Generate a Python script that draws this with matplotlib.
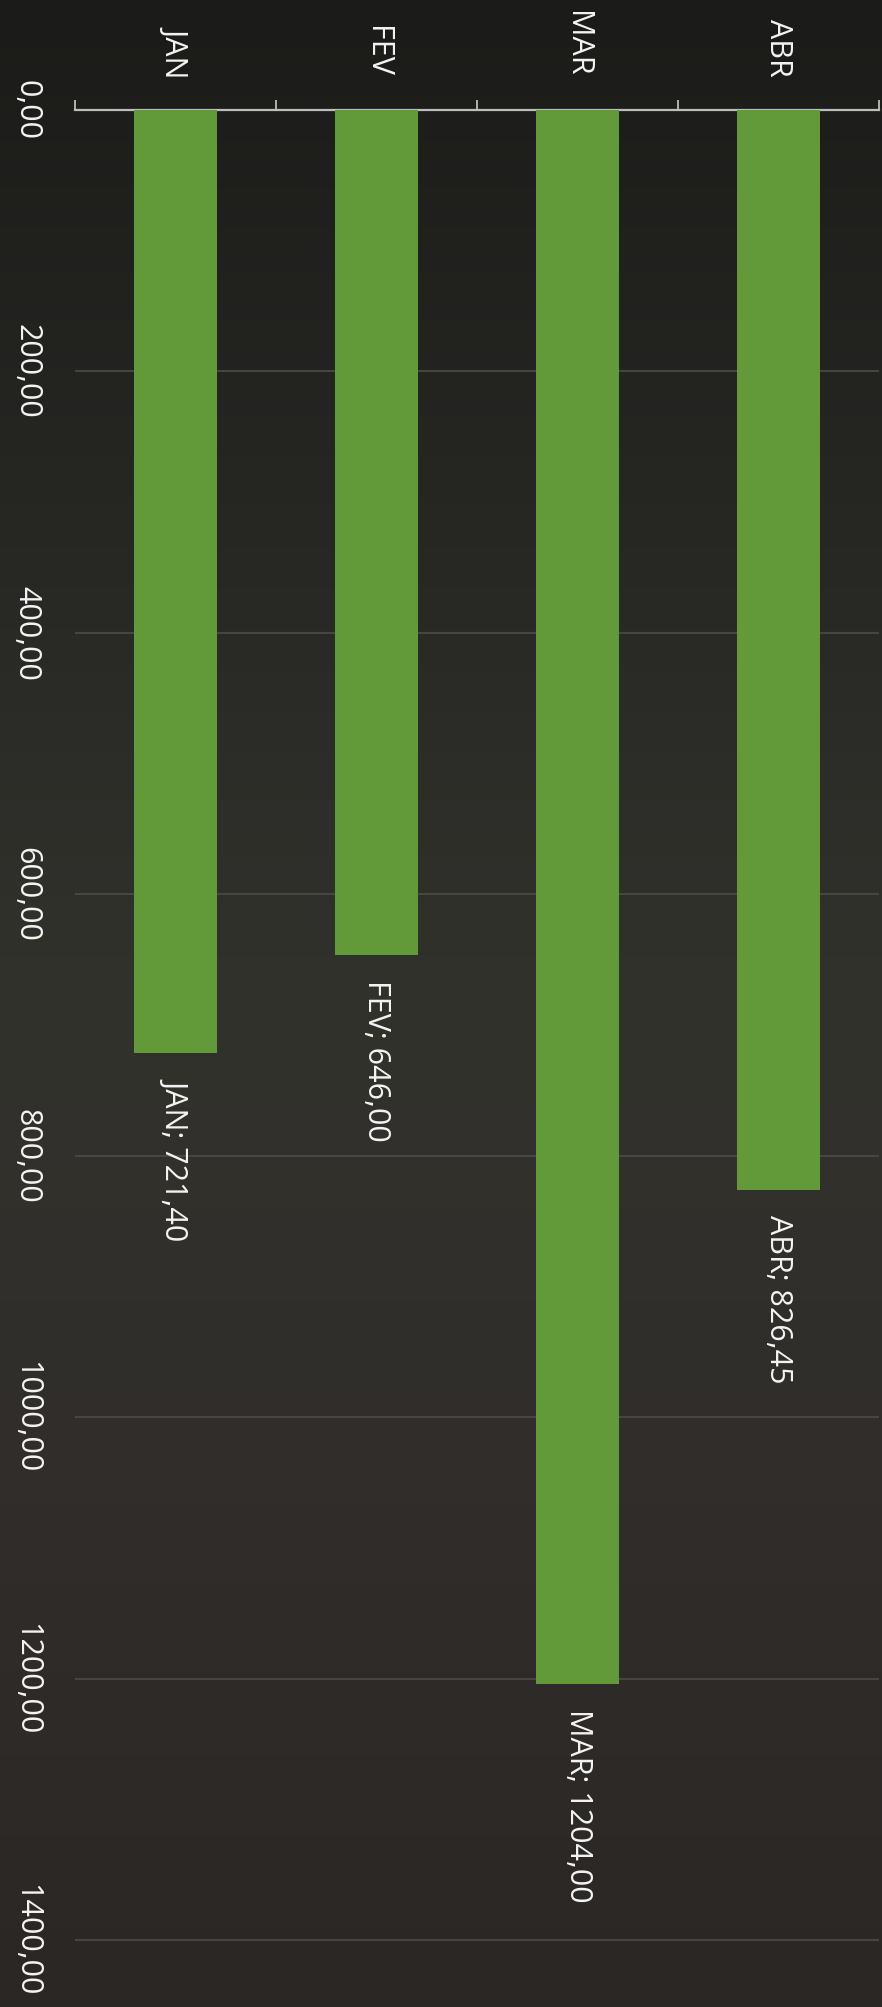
import numpy as np
import matplotlib
matplotlib.use('Agg')
import matplotlib.pyplot as plt
from matplotlib.colors import LinearSegmentedColormap

plt.rcParams['font.family'] = ['Open Sans', 'DejaVu Sans']

# data
meses = ['JAN', 'FEV', 'MAR', 'ABR']
valores = [721.40, 646.00, 1204.00, 826.45]
yticks = [0, 200, 400, 600, 800, 1000, 1200, 1400]


def fmt(v):
    return f"{v:.2f}".replace('.', ',')


fig = plt.figure(figsize=(8.82, 20.07), dpi=100)

# dark gradient background (scanned slide look)
bg = fig.add_axes([0, 0, 1, 1])
bg.axis('off')
cmap = LinearSegmentedColormap.from_list(
    'bg', ['#1b1b19', '#262623', '#32322d', '#302d2a', '#2b2725'])
bg.imshow(np.linspace(0, 1, 256).reshape(-1, 1), aspect='auto', cmap=cmap,
          extent=[0, 1, 0, 1])

ax = fig.add_axes([75 / 882, 0, 804 / 882, 1 - 110 / 2007])
ax.patch.set_alpha(0)

x = np.arange(len(meses))
ax.bar(x, valores, width=0.41, color='#629a3a', zorder=3)

ax.set_xlim(-0.5, 3.5)
ax.set_ylim(1451, 0)

# categories on top, text rotated
ax.xaxis.tick_top()
ax.set_xticks(x)
ax.set_xticklabels(meses, rotation=-90, fontsize=22, color='#f4f4f4')
ax.tick_params(axis='x', which='major', length=0, pad=24)
ax.set_xticks(np.arange(-0.5, 4, 1), minor=True)
ax.tick_params(axis='x', which='minor', length=7, width=1.3, color='#bdbdbd',
               direction='out', top=True, bottom=False)

ax.set_yticks(yticks)
ax.set_yticklabels([fmt(t) for t in yticks], rotation=-90, fontsize=22,
                   color='#f4f4f4', ha='right', va='center')
ax.tick_params(axis='y', length=0, pad=24)

ax.yaxis.grid(True, color='#4c4c47', lw=1.2)
ax.set_axisbelow(True)

for s in ['left', 'right', 'bottom']:
    ax.spines[s].set_visible(False)
ax.spines['top'].set_color('#bdbdbd')
ax.spines['top'].set_linewidth(1.6)

for i, (m, v) in enumerate(zip(meses, valores)):
    ax.annotate(f"{m}; {fmt(v)}", xy=(i, v), xytext=(0, -18),
                textcoords='offset points', rotation=-90, ha='center',
                va='top', color='#f4f4f4', fontsize=22)

fig.savefig('out.png', dpi=100)
